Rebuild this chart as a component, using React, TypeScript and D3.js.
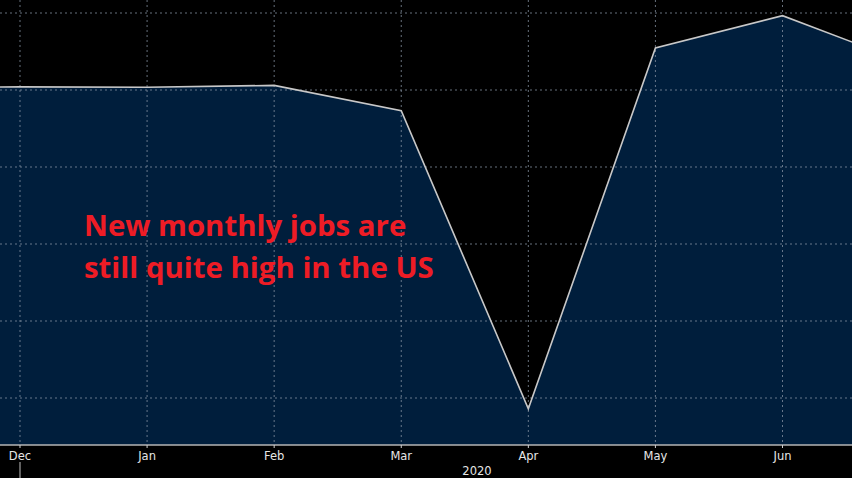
import React, { useEffect } from "react";
import * as d3 from "d3";

const months = ["Nov", "Dec", "Jan", "Feb", "Mar", "Apr", "May", "Jun", "Jul"];
const values = [6.03, 6.04, 6.035, 6.06, 5.73, 1.86, 6.545, 6.965, 6.34];
const tickLabels = ["Dec", "Jan", "Feb", "Mar", "Apr", "May", "Jun"];
const gridValues = [7, 6, 5, 4, 3, 2];
const yearLabel = "2020";
const titleLines = ["New monthly jobs are", "still quite high in the US"];

const W = 852;
const H = 478;
const axisY = 445;

export default function App() {
  useEffect(() => {
    document.body.style.margin = "0";
    document.body.style.background = "#000";
  }, []);

  const x = d3.scaleLinear().domain([1, 7]).range([20, 782.5]);
  const y = d3.scaleLinear().domain([2, 7]).range([398, 13]);

  const pts = months.map((m, i) => ({ i, v: values[i] }));
  const area = d3
    .area<{ i: number; v: number }>()
    .x((d) => x(d.i))
    .y0(axisY)
    .y1((d) => y(d.v));
  const line = d3
    .line<{ i: number; v: number }>()
    .x((d) => x(d.i))
    .y((d) => y(d.v));

  return (
    <svg
      width={W}
      height={H}
      style={{ position: "absolute", left: 0, top: 0, display: "block", background: "#000" }}
    >
      <defs>
        <clipPath id="plot">
          <rect x={0} y={0} width={W} height={axisY} />
        </clipPath>
      </defs>
      <rect x={0} y={0} width={W} height={H} fill="#000" />
      <g clipPath="url(#plot)">
        <path d={area(pts) || ""} fill="#001e3c" />
        {gridValues.map((g) => (
          <line
            key={"h" + g}
            x1={0}
            x2={W}
            y1={y(g)}
            y2={y(g)}
            stroke="#8a96a6"
            strokeOpacity={0.75}
            strokeWidth={1}
            strokeDasharray="2,3"
          />
        ))}
        {tickLabels.map((t) => {
          const xi = x(months.indexOf(t));
          return (
            <line
              key={"v" + t}
              x1={xi}
              x2={xi}
              y1={0}
              y2={axisY}
              stroke="#8a96a6"
              strokeOpacity={0.75}
              strokeWidth={1}
              strokeDasharray="2,3"
            />
          );
        })}
        <path d={line(pts) || ""} fill="none" stroke="#c8c8c8" strokeWidth={1.6} />
      </g>
      <line x1={0} x2={W} y1={axisY} y2={axisY} stroke="#b4b4b4" strokeWidth={1.5} />
      {tickLabels.map((t) => {
        const xi = x(months.indexOf(t));
        return (
          <g key={"t" + t}>
            <line x1={xi} x2={xi} y1={axisY} y2={axisY + 3} stroke="#d0d0d0" strokeWidth={1} />
            <text
              x={xi}
              y={459.5}
              textAnchor="middle"
              fill="#e6e6e6"
              fontFamily="'DejaVu Sans', Verdana, sans-serif"
              fontSize={11.5}
            >
              {t}
            </text>
          </g>
        );
      })}
      <line x1={x(1)} x2={x(1)} y1={462} y2={H} stroke="#c0c0c0" strokeWidth={1} />
      <text
        x={477}
        y={475}
        textAnchor="middle"
        fill="#e6e6e6"
        fontFamily="'DejaVu Sans', Verdana, sans-serif"
        fontSize={11.5}
      >
        {yearLabel}
      </text>
      {titleLines.map((l, i) => (
        <text
          key={l}
          x={84}
          y={236 + i * 42}
          fill="#ee1c25"
          fontFamily="'Open Sans', Lato, sans-serif"
          fontWeight={700}
          fontSize={29.4}
        >
          {l}
        </text>
      ))}
    </svg>
  );
}
